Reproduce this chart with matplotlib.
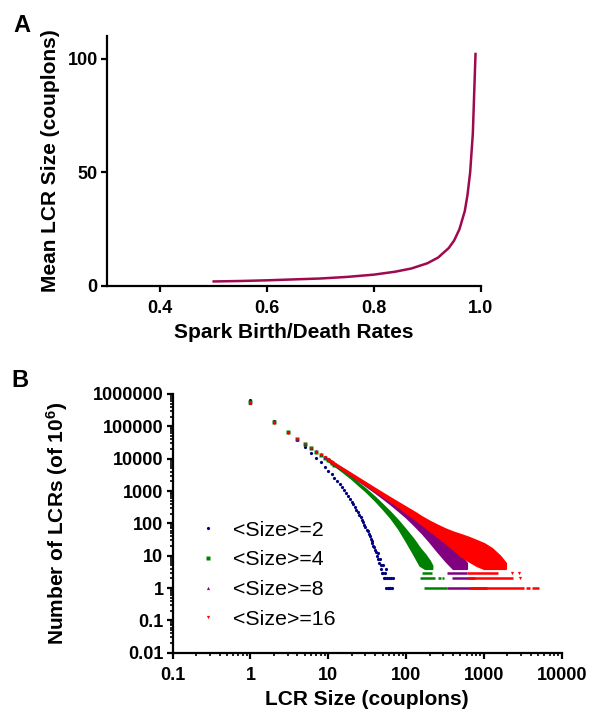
import matplotlib
matplotlib.use("Agg")
import matplotlib.pyplot as plt
from matplotlib.lines import Line2D
from matplotlib.ticker import FixedLocator, LogLocator, NullFormatter

plt.rcParams['font.family'] = ['Liberation Sans', 'DejaVu Sans']
plt.rcParams['font.weight'] = 'bold'
plt.rcParams['mathtext.fontset'] = 'custom'
plt.rcParams['mathtext.rm'] = 'Liberation Sans:bold'
plt.rcParams['mathtext.bf'] = 'Liberation Sans:bold'
plt.rcParams['mathtext.default'] = 'bf'

# ---- panel A: mean LCR size vs spark birth/death rate
rate = [0.50, 0.55, 0.60, 0.65, 0.70, 0.75, 0.80, 0.84, 0.87, 0.90, 0.92,
        0.94, 0.95, 0.96, 0.97, 0.975, 0.98, 0.985, 0.99]
mean_size = [2.0, 2.2, 2.5, 2.9, 3.3, 4.0, 5.0, 6.3, 7.7, 10, 12.5,
             16.7, 20, 25, 33, 40, 50, 67, 102]
a_xticks = [0.4, 0.6, 0.8, 1.0]
a_yticks = [0, 50, 100]

# ---- panel B: LCR size distributions
legend_labels = ['<Size>=2', '<Size>=4', '<Size>=8', '<Size>=16']
colors = ['#000080', '#008000', '#800080', '#ff0000']
markers = ['o', 's', '^', 'v']

blue_size = [1, 2, 3, 4, 5, 6, 7, 8, 9, 10, 11, 12, 13, 14, 15, 16, 17, 18, 19, 20,
             21, 22, 23, 24, 25, 26, 27, 28, 29, 30, 31, 32, 33, 34, 35, 36, 37, 38,
             39, 40, 41, 42, 43, 44, 45, 46, 47, 48, 49, 50, 51, 52, 53, 54, 55, 56,
             57, 58, 60, 61, 63, 64, 65, 67]
blue_count = [650000, 148000, 66000, 36600, 22800, 15200, 10600, 7650, 5670, 4280,
              3300, 2580, 2030, 1620, 1300, 1050, 850, 690, 570, 470,
              390, 320, 265, 223, 185, 156, 128, 110, 92, 78, 64, 58, 46, 40, 34, 28,
              25, 20, 18, 15, 13, 10, 12, 8, 6, 8, 5, 4, 3, 5, 3, 2, 3, 2, 4, 1,
              2, 1, 2, 1, 1, 2, 1, 2]

green_size = [1, 2, 3, 4, 5, 6, 7, 8, 9, 10, 11, 12]
green_count = [571000, 140000, 68600, 42000, 28800, 21100, 16300, 13000, 10600,
               8800, 7470, 6430]
purple_size = [1, 2, 3, 4, 5, 6, 7, 8, 9, 10, 11, 12]
purple_count = [533000, 133000, 66100, 41100, 28700, 21400, 16700, 13500, 11200,
                9500, 8100, 6900]
red_size = [1, 2, 3, 4, 5, 6, 7, 8, 9, 10, 11, 12]
red_count = [530000, 129000, 64400, 40200, 28100, 21100, 16500, 13400, 11200,
             9480, 8100, 6920]

# dense part of each distribution: lower / upper edge of the point cloud
green_band_size = [10, 12, 15, 20, 25, 30, 40, 50, 63, 80, 100, 125, 150, 175, 200, 215]
green_band_low = [8400, 6150, 4100, 2380, 1470, 1010, 510, 285, 150, 68, 28, 11, 5, 4, 4, 4]
green_band_high = [9200, 6700, 4500, 2650, 1680, 1180, 640, 380, 220, 118, 62, 32, 17, 11, 7, 5]

purple_band_size = [10, 12, 15, 20, 25, 30, 40, 50, 63, 80, 100, 125, 160, 200, 250,
                    320, 400, 500, 600]
purple_band_low = [9100, 6600, 4650, 2900, 2020, 1490, 910, 610, 395, 245, 155, 92,
                   50, 27, 14, 7, 4, 4, 4]
purple_band_high = [9900, 7200, 5100, 3280, 2320, 1740, 1100, 770, 530, 355, 245, 165,
                    105, 70, 45, 28, 17, 10, 6]

red_band_size = [10, 12, 15, 20, 30, 40, 50, 63, 80, 100, 130, 160, 200, 250, 320, 400,
                 500, 630, 800, 1000, 1260, 1600, 1900]
red_band_low = [9000, 6600, 4650, 2980, 1580, 1000, 700, 480, 320, 215, 135, 92, 60, 40,
                25, 16, 10, 7, 5, 4, 4, 4, 4]
red_band_high = [10000, 7300, 5250, 3420, 1860, 1210, 870, 620, 440, 320, 220, 160, 118,
                 90, 68, 55, 46, 38, 30, 24, 17, 10, 6]

# runs of consecutive sizes seen at the same low count
green_run_level = [1, 2, 2, 2, 3]
green_run_start = [170, 153, 255, 290, 160]
green_run_end = [335, 238, 280, 305, 215]
purple_run_level = [1, 2, 3]
purple_run_start = [340, 385, 335]
purple_run_end = [1100, 770, 610]
red_run_level = [1, 1, 1, 2, 3]
red_run_start = [665, 3500, 4200, 625, 610]
red_run_end = [3300, 3900, 5100, 2400, 1540]
red_extra_size = [2900, 2300, 2800]
red_extra_count = [2, 3, 3]

b_xticks = [0.1, 1, 10, 100, 1000, 10000]
b_xlabels = ['0.1', '1', '10', '100', '1000', '10000']
b_yticks = [0.01, 0.1, 1, 10, 100, 1000, 10000, 100000, 1000000]
b_ylabels = ['0.01', '0.1', '1', '10', '100', '1000', '10000', '100000', '1000000']

fig = plt.figure(figsize=(5.9, 7.15), dpi=100)

def style_axes(ax, xpad, ypad):
    for s in ['top', 'right']:
        ax.spines[s].set_visible(False)
    for s in ['left', 'bottom']:
        ax.spines[s].set_linewidth(1.6)
    ax.tick_params(which='major', direction='out', length=4, width=1.6, labelsize=13)
    ax.tick_params(axis='x', which='major', pad=xpad)
    ax.tick_params(axis='y', which='major', pad=ypad)
    ax.tick_params(which='minor', direction='out', length=2.5, width=1.2)
    for lab in ax.get_xticklabels() + ax.get_yticklabels():
        lab.set_fontweight('bold')

# ---- A
axA = fig.add_axes([0.181, 0.600, 0.634, 0.350])
axA.plot(rate, mean_size, color='#9e0a4f', lw=1.8)
axA.set_xlim(0.3, 1.0)
axA.set_ylim(0, 110)
axA.set_xticks(a_xticks)
axA.set_xticklabels(['%.1f' % v for v in a_xticks])
axA.set_yticks(a_yticks)
axA.set_yticklabels([str(v) for v in a_yticks])
style_axes(axA, 6, 2.5)
axA.set_xlabel('Spark Birth/Death Rates', fontsize=15, fontweight='bold')
axA.set_ylabel('Mean LCR Size (couplons)', fontsize=15, fontweight='bold')
axA.xaxis.set_label_coords(0.5, -0.148)
axA.yaxis.set_label_coords(-0.125, 0.5)
fig.text(0.022, 0.955, 'A', fontsize=17, fontweight='bold', va='baseline')

# ---- B
axB = fig.add_axes([0.2927, 0.0870, 0.6593, 0.3620])
axB.set_xscale('log')
axB.set_yscale('log')

ms = 2.3
axB.plot(blue_size, blue_count, ls='none', marker=markers[0], ms=ms,
         color=colors[0], mec='none', zorder=3)

groups = [
    (green_size, green_count, green_band_size, green_band_low, green_band_high,
     green_run_level, green_run_start, green_run_end, colors[1], markers[1], 4),
    (purple_size, purple_count, purple_band_size, purple_band_low, purple_band_high,
     purple_run_level, purple_run_start, purple_run_end, colors[2], markers[2], 5),
    (red_size, red_count, red_band_size, red_band_low, red_band_high,
     red_run_level, red_run_start, red_run_end, colors[3], markers[3], 6),
]
for (sz, ct, bs, bl, bh, rl, rs, re, col, mk, z) in groups:
    axB.plot(sz, ct, ls='none', marker=mk, ms=ms, color=col, mec='none', zorder=z)
    axB.fill_between(bs, bl, bh, color=col, lw=1.4, ec=col, zorder=z)
    axB.hlines(rl, rs, re, color=col, lw=1.8, zorder=z)
axB.plot(red_extra_size, red_extra_count, ls='none', marker=markers[3], ms=ms,
         color=colors[3], mec='none', zorder=6)

axB.set_xlim(0.1, 10000)
axB.set_ylim(0.01, 1000000)
axB.xaxis.set_major_locator(FixedLocator(b_xticks))
axB.set_xticklabels(b_xlabels)
axB.yaxis.set_major_locator(FixedLocator(b_yticks))
axB.set_yticklabels(b_ylabels)
axB.xaxis.set_minor_locator(LogLocator(base=10, subs=range(2, 10), numticks=20))
axB.yaxis.set_minor_locator(LogLocator(base=10, subs=range(2, 10), numticks=20))
axB.xaxis.set_minor_formatter(NullFormatter())
axB.yaxis.set_minor_formatter(NullFormatter())
style_axes(axB, 6, 2.7)
axB.set_xlabel('LCR Size (couplons)', fontsize=15, fontweight='bold')
axB.set_ylabel(r'Number of LCRs (of 10$^{6}$)', fontsize=15, fontweight='bold')
axB.xaxis.set_label_coords(0.5, -0.144)
axB.yaxis.set_label_coords(-0.265, 0.5)
fig.text(0.02, 0.4587, 'B', fontsize=17, fontweight='bold', va='baseline')

handles = [Line2D([], [], ls='none', marker=markers[i], ms=ms, color=colors[i], mec='none')
           for i in range(4)]
leg = axB.legend(handles, legend_labels, loc='upper left', bbox_to_anchor=(0.015, 0.585),
                 frameon=False, numpoints=1, handlelength=1.0, handletextpad=0.65,
                 labelspacing=0.5, prop={'size': 15.4, 'weight': 'normal'})

fig.savefig('out.png', dpi=100)
